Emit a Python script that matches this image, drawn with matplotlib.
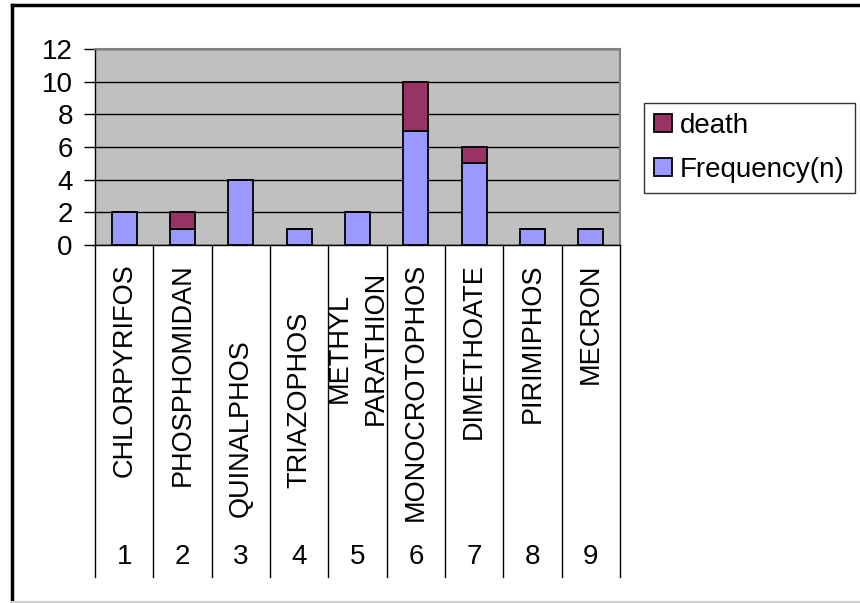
import matplotlib
matplotlib.use("Agg")
import matplotlib.pyplot as plt
import matplotlib.transforms as mtransforms
from matplotlib.lines import Line2D

plt.rcParams["font.family"] = ["Liberation Sans", "DejaVu Sans"]

# data
compounds = ["CHLORPYRIFOS", "PHOSPHOMIDAN", "QUINALPHOS", "TRIAZOPHOS",
             "METHYL\nPARATHION", "MONOCROTOPHOS", "DIMETHOATE",
             "PIRIMIPHOS", "MECRON"]
case_numbers = ["1", "2", "3", "4", "5", "6", "7", "8", "9"]
frequency = [2, 1, 4, 1, 2, 7, 5, 1, 1]
death = [0, 1, 0, 0, 0, 3, 1, 0, 0]

# label placement (axes-fraction y, vertical alignment) mimicking Excel layout
label_place = [(-0.092, "top"), (-0.092, "top"), (-1.388, "bottom"),
               (-1.240, "bottom"), (-0.526, "center"), (-0.092, "top"),
               (-0.092, "top"), (-0.092, "top"), (-0.092, "top")]

W, H = 860, 603
fig = plt.figure(figsize=(W / 100, H / 100), dpi=100)
ax = fig.add_axes([95 / W, 1 - 245 / H, 525 / W, 196 / H])
ax.set_facecolor("#C0C0C0")

x = list(range(len(compounds)))
ax.bar(x, frequency, width=0.43, color="#9999FF", edgecolor="black",
       linewidth=1.3, label="Frequency(n)", zorder=3)
ax.bar(x, death, width=0.43, bottom=frequency, color="#993366",
       edgecolor="black", linewidth=1.3, label="death", zorder=3)

ax.set_xlim(-0.5, len(compounds) - 0.5)
ax.set_ylim(0, 12)
ax.set_yticks(range(0, 13, 2))
ax.tick_params(axis="y", labelsize=20, length=8, width=1, pad=8)
ax.set_xticks([])
ax.grid(True, axis="y", color="black", linewidth=1, zorder=1)

for side in ("top", "right"):
    ax.spines[side].set_color("#808080")
    ax.spines[side].set_linewidth(1.5)
for side in ("left", "bottom"):
    ax.spines[side].set_color("black")
    ax.spines[side].set_linewidth(1)

# category separators and multi-level labels
trans = mtransforms.blended_transform_factory(ax.transData, ax.transAxes)
sep_bottom = -(577 - 245) / 196
for b in range(len(compounds) + 1):
    ax.plot([b - 0.5, b - 0.5], [0, sep_bottom], color="black", lw=1,
            transform=trans, clip_on=False)

for i, name in enumerate(compounds):
    y, va = label_place[i]
    ax.text(i, y, name, transform=trans, rotation=90, ha="center", va=va,
            fontsize=19.5, multialignment="center", linespacing=1.5)
    ax.text(i, -1.592, case_numbers[i], transform=trans, ha="center",
            va="center", fontsize=20)

handles, labels = ax.get_legend_handles_labels()
leg = fig.legend(handles[::-1], labels[::-1], loc="upper left",
                 bbox_to_anchor=(644 / W, 1 - 103 / H), borderaxespad=0,
                 fontsize=20, frameon=True, fancybox=False, edgecolor="black",
                 handlelength=0.65, handleheight=0.65, handletextpad=0.3,
                 labelspacing=0.65, borderpad=0.35)
leg.get_frame().set_linewidth(1)

# outer chart border (cropped on right/bottom)
fig.add_artist(Line2D([12 / W, 1], [1 - 5 / H, 1 - 5 / H], color="black",
                      lw=2.5, transform=fig.transFigure))
fig.add_artist(Line2D([12 / W, 12 / W], [1 - 5 / H, 0], color="black",
                      lw=2.5, transform=fig.transFigure))
fig.add_artist(Line2D([12 / W, 1], [1 / H, 1 / H], color="#D0D0D0",
                      lw=1.5, transform=fig.transFigure))

fig.savefig("out.png", dpi=100)
